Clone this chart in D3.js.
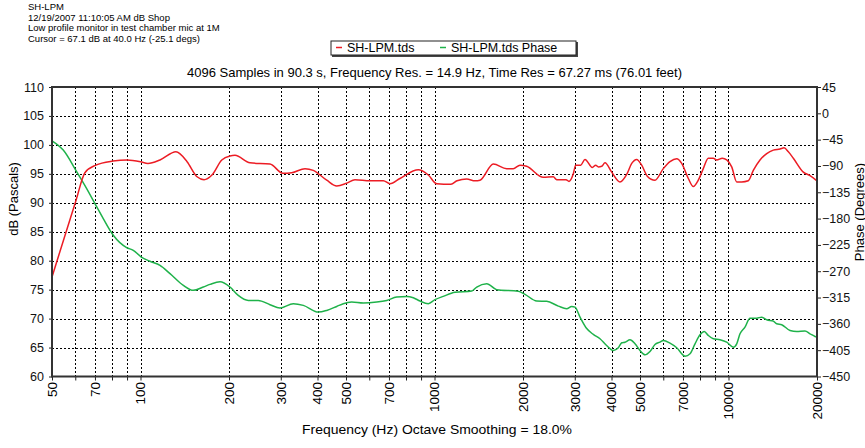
<!DOCTYPE html>
<html>
<head>
<meta charset="utf-8">
<script src="https://cdn.jsdelivr.net/npm/d3@7"></script>
<style>
  body { margin: 0; background: #fff; }
  svg { display: block; font-family: "Liberation Sans", Arial, sans-serif; }
</style>
</head>
<body>
<svg id="chart" width="865" height="448"></svg>
<script>
// header lines
var headerLines = [
  "SH-LPM",
  "12/19/2007 11:10:05 AM dB Shop",
  "Low profile monitor in test chamber mic at 1M",
  "Cursor = 67.1 dB at 40.0 Hz (-25.1 degs)"
]
var chartTitle = "4096 Samples in 90.3 s, Frequency Res. = 14.9 Hz, Time Res = 67.27 ms (76.01 feet)"
var seriesNames = ["SH-LPM.tds", "SH-LPM.tds Phase"]

// magnitude curve (Hz, dB)
var magFreq = [50, 60.4, 64.7, 70.5, 80.6, 90, 100, 106, 116.5, 132, 144, 155.7, 164.5, 175, 189, 201.5, 209.6,
  235.7, 275.7, 305, 326.8, 362.7, 387, 430, 465, 503, 536.5, 603.5, 669.7, 705.6, 763, 881, 952.7, 1017,
  1138, 1193, 1287, 1374, 1428, 1585, 1760, 1853, 1953, 2058, 2345, 2536, 2604, 2801, 2868, 2966, 3022,
  3143, 3250, 3442, 3534, 3608, 3704, 3801, 4006, 4275, 4506, 4686, 4873, 5067, 5294, 5623, 6001, 6324,
  6667, 6932, 7300, 7591, 7893, 8208, 8536, 8876, 9117, 9527, 9862, 10255, 10665, 11090, 11678, 12144,
  12799, 13490, 14206, 14972, 15452, 15981, 16617, 17967, 18937, 20000]
var magDb = [77.2, 90.5, 95.2, 96.5, 97.2, 97.4, 97.1, 96.8, 97.4, 98.8, 97.1, 94.5, 94.0, 94.8, 97.4, 98.1, 98.2,
  96.9, 96.7, 95.1, 95.2, 95.9, 95.6, 93.9, 92.9, 93.4, 94.0, 93.8, 93.8, 93.3, 94.2, 95.7, 94.8, 93.3,
  93.2, 93.8, 94.1, 93.8, 93.9, 96.7, 95.9, 95.9, 96.5, 96.3, 94.4, 94.5, 94.0, 94.0, 93.7, 95.0, 96.5,
  96.5, 97.5, 96.1, 96.5, 96.2, 96.3, 96.9, 95.3, 93.6, 94.9, 96.8, 97.5, 96.5, 94.6, 93.9, 95.9, 97.1,
  97.6, 96.8, 94.2, 92.8, 93.9, 95.9, 97.7, 97.7, 97.4, 97.7, 97.4, 96.2, 93.6, 93.6, 93.8, 95.6,
  97.4, 98.5, 99.1, 99.3, 99.5, 98.8, 97.7, 95.3, 94.7, 93.8]

// phase curve (Hz, degrees)
var phaseFreq = [50, 54.6, 60.7, 65.6, 71, 74.7, 80.8, 89.7, 94.5, 100.6, 107.7, 116.5, 126, 139.9, 151.2, 163.5,
  172.3, 186.4, 201.5, 215, 232.6, 251.5, 275.7, 298, 331, 358, 402.5, 430, 465, 489.5, 522.7, 572.7, 636,
  687.7, 743.7, 804.4, 847, 892.6, 952.7, 1004, 1071, 1174, 1339, 1392, 1505, 1628, 1928, 2031, 2227, 2408,
  2637, 2816, 2928, 3005, 3126, 3294, 3469, 3655, 3851, 4058, 4220, 4334, 4446, 4624, 4808, 5000, 5200,
  5407, 5623, 5847, 6001, 6324, 6667, 7115, 7399, 7694, 8000, 8273, 8536, 8876, 9354, 9862, 10386, 10665,
  10943, 11379, 11833, 12471, 12969, 13490, 14206, 14587, 15169, 16190, 17061, 18205, 18937, 19690, 20000]
var phaseDeg = [-47, -62.9, -100, -128.6, -160, -180, -208.5, -229.6, -234.2, -245.7, -253, -260, -274.1, -294.2, -302.7, -297,
  -292.5, -288, -297, -311.3, -319.9, -319.9, -327.2, -333, -325.5, -328.4, -339.9, -337, -330.2, -325.5, -322.8, -324.5, -322.8,
  -319.9, -314.2, -313, -315.3, -321, -325.5, -318.6, -313, -306.1, -303.9, -297, -291.2, -301.5, -304.4, -309.5, -321, -321.5,
  -329.6, -334, -330.1, -331.3, -348.4, -368, -378.1, -385.5, -396.9, -405.5, -400.9, -392.3, -391.3, -387.2, -394.1, -405.5, -412.9,
  -407.2, -395.2, -391.3, -388.4, -393, -400.9, -415.3, -411.2, -394.1, -378.7, -373, -379.8, -385.5, -387.2, -391.3, -399.9, -394.1,
  -377, -365.6, -350.2, -350.2, -348.5, -353, -355.3, -359.8, -361.5, -371.3, -373, -372.4, -377, -381.5, -382.7]

// axis ticks
var xTickLabels = [50, 70, 100, 200, 300, 400, 500, 700, 1000, 2000, 3000, 4000, 5000, 7000, 10000, 20000]
var xGrid = [60, 70, 80, 90, 100, 200, 300, 400, 500, 600, 700, 800, 900, 1000,
  2000, 3000, 4000, 5000, 6000, 7000, 8000, 9000, 10000]
var dbTicks = [60, 65, 70, 75, 80, 85, 90, 95, 100, 105, 110]
var phaseTicks = [45, 0, -45, -90, -135, -180, -225, -270, -315, -360, -405, -450]

var red = "#ec1c24", green = "#1fb24a"

// plot box (window.top is reserved, so use own names)
var plotL = 52, plotR = 817, plotT = 87, plotB = 376.5

var svg = d3.select("#chart")

var x = d3.scaleLog().domain([50, 20000]).range([plotL, plotR])
var yDb = d3.scaleLinear().domain([60, 110]).range([plotB, plotT])
var yPh = d3.scaleLinear().domain([-450, 45]).range([plotB, plotT])

// header text
svg.append("g").selectAll("text")
  .data(headerLines)
  .enter().append("text")
    .attr("x", 28)
    .attr("y", function(d, i){ return 10 + i * 10.6 })
    .attr("font-size", 9.5)
    .text(function(d){ return d })

// legend box
var lg = svg.append("g")
lg.append("rect").attr("x", 332).attr("y", 42).attr("width", 246).attr("height", 15).attr("fill", "#444")
lg.append("rect").attr("x", 331).attr("y", 41).attr("width", 245).attr("height", 14)
  .attr("fill", "#fff").attr("stroke", "#222").attr("stroke-width", 1)
var legendItems = [{name: seriesNames[0], color: red, x: 336}, {name: seriesNames[1], color: green, x: 440}]
legendItems.forEach(function(d){
  lg.append("line").attr("x1", d.x).attr("x2", d.x + 6).attr("y1", 47.5).attr("y2", 47.5)
    .attr("stroke", d.color).attr("stroke-width", 1.5)
  lg.append("text").attr("x", d.x + 11).attr("y", 52).attr("font-size", 12.5).text(d.name)
})

// title
svg.append("text").attr("x", (plotL + plotR) / 2).attr("y", 77)
  .attr("text-anchor", "middle").attr("font-size", 13).text(chartTitle)

// gridlines
var grid = svg.append("g").attr("stroke", "#000").attr("stroke-width", 1).attr("stroke-dasharray", "2,2")
grid.selectAll(".h").data(dbTicks.slice(1, -1)).enter().append("line")
  .attr("x1", plotL).attr("x2", plotR)
  .attr("y1", function(d){ return Math.round(yDb(d)) + 0.5 })
  .attr("y2", function(d){ return Math.round(yDb(d)) + 0.5 })
grid.selectAll(".v").data(xGrid).enter().append("line")
  .attr("y1", plotT).attr("y2", plotB)
  .attr("x1", function(d){ return Math.round(x(d)) + 0.5 })
  .attr("x2", function(d){ return Math.round(x(d)) + 0.5 })

// axes with d3
var leftAxis = d3.axisLeft(yDb).tickValues(dbTicks).tickSize(3).tickPadding(5)
var rightAxis = d3.axisRight(yPh).tickValues(phaseTicks).tickSize(4).tickPadding(1)
var bottomAxis = d3.axisBottom(x).tickValues(xGrid.concat([50, 20000])).tickSize(4).tickFormat("")

var gl = svg.append("g").attr("transform", "translate(" + plotL + ",0)").call(leftAxis)
var gr = svg.append("g").attr("transform", "translate(" + plotR + ",0)").call(rightAxis)
var gb = svg.append("g").attr("transform", "translate(0," + plotB + ")").call(bottomAxis)
;[gl, gr, gb].forEach(function(g){
  g.select(".domain").remove()
  g.selectAll("line").attr("stroke", "#222")
  g.selectAll("text").attr("font-size", 12.5).attr("fill", "#111")
    .attr("font-family", "'Liberation Sans', Arial, sans-serif")
})

// x tick labels rotated
svg.append("g").selectAll("text")
  .data(xTickLabels)
  .enter().append("text")
    .attr("transform", function(d){ return "translate(" + x(d) + "," + 382 + ") rotate(-90)" })
    .attr("text-anchor", "end")
    .attr("dy", "0.35em")
    .attr("font-size", 13.5)
    .text(function(d){ return d })

// curves
var magLine = d3.line()
  .x(function(d){ return x(d[0]) })
  .y(function(d){ return yDb(d[1]) })
  .curve(d3.curveMonotoneX)
var phLine = d3.line()
  .x(function(d){ return x(d[0]) })
  .y(function(d){ return yPh(d[1]) })
  .curve(d3.curveMonotoneX)

svg.append("path")
  .datum(d3.zip(phaseFreq, phaseDeg))
  .attr("d", phLine)
  .attr("fill", "none").attr("stroke", green).attr("stroke-width", 1.5)
svg.append("path")
  .datum(d3.zip(magFreq, magDb))
  .attr("d", magLine)
  .attr("fill", "none").attr("stroke", red).attr("stroke-width", 1.5)

// frame
svg.append("rect").attr("x", plotL).attr("y", plotT)
  .attr("width", plotR - plotL).attr("height", plotB - plotT)
  .attr("fill", "none").attr("stroke", "#333").attr("stroke-width", 2)

// axis titles
svg.append("text").attr("transform", "translate(17.5,199) rotate(-90)")
  .attr("text-anchor", "middle").attr("font-size", 13).text("dB (Pascals)")
svg.append("text").attr("transform", "translate(864,212) rotate(-90)")
  .attr("text-anchor", "middle").attr("font-size", 13).text("Phase (Degrees)")
svg.append("text").attr("x", 437).attr("y", 434)
  .attr("text-anchor", "middle").attr("font-size", 13)
  .attr("textLength", 270).attr("lengthAdjust", "spacingAndGlyphs")
  .text("Frequency (Hz) Octave Smoothing = 18.0%")
</script>
</body>
</html>
